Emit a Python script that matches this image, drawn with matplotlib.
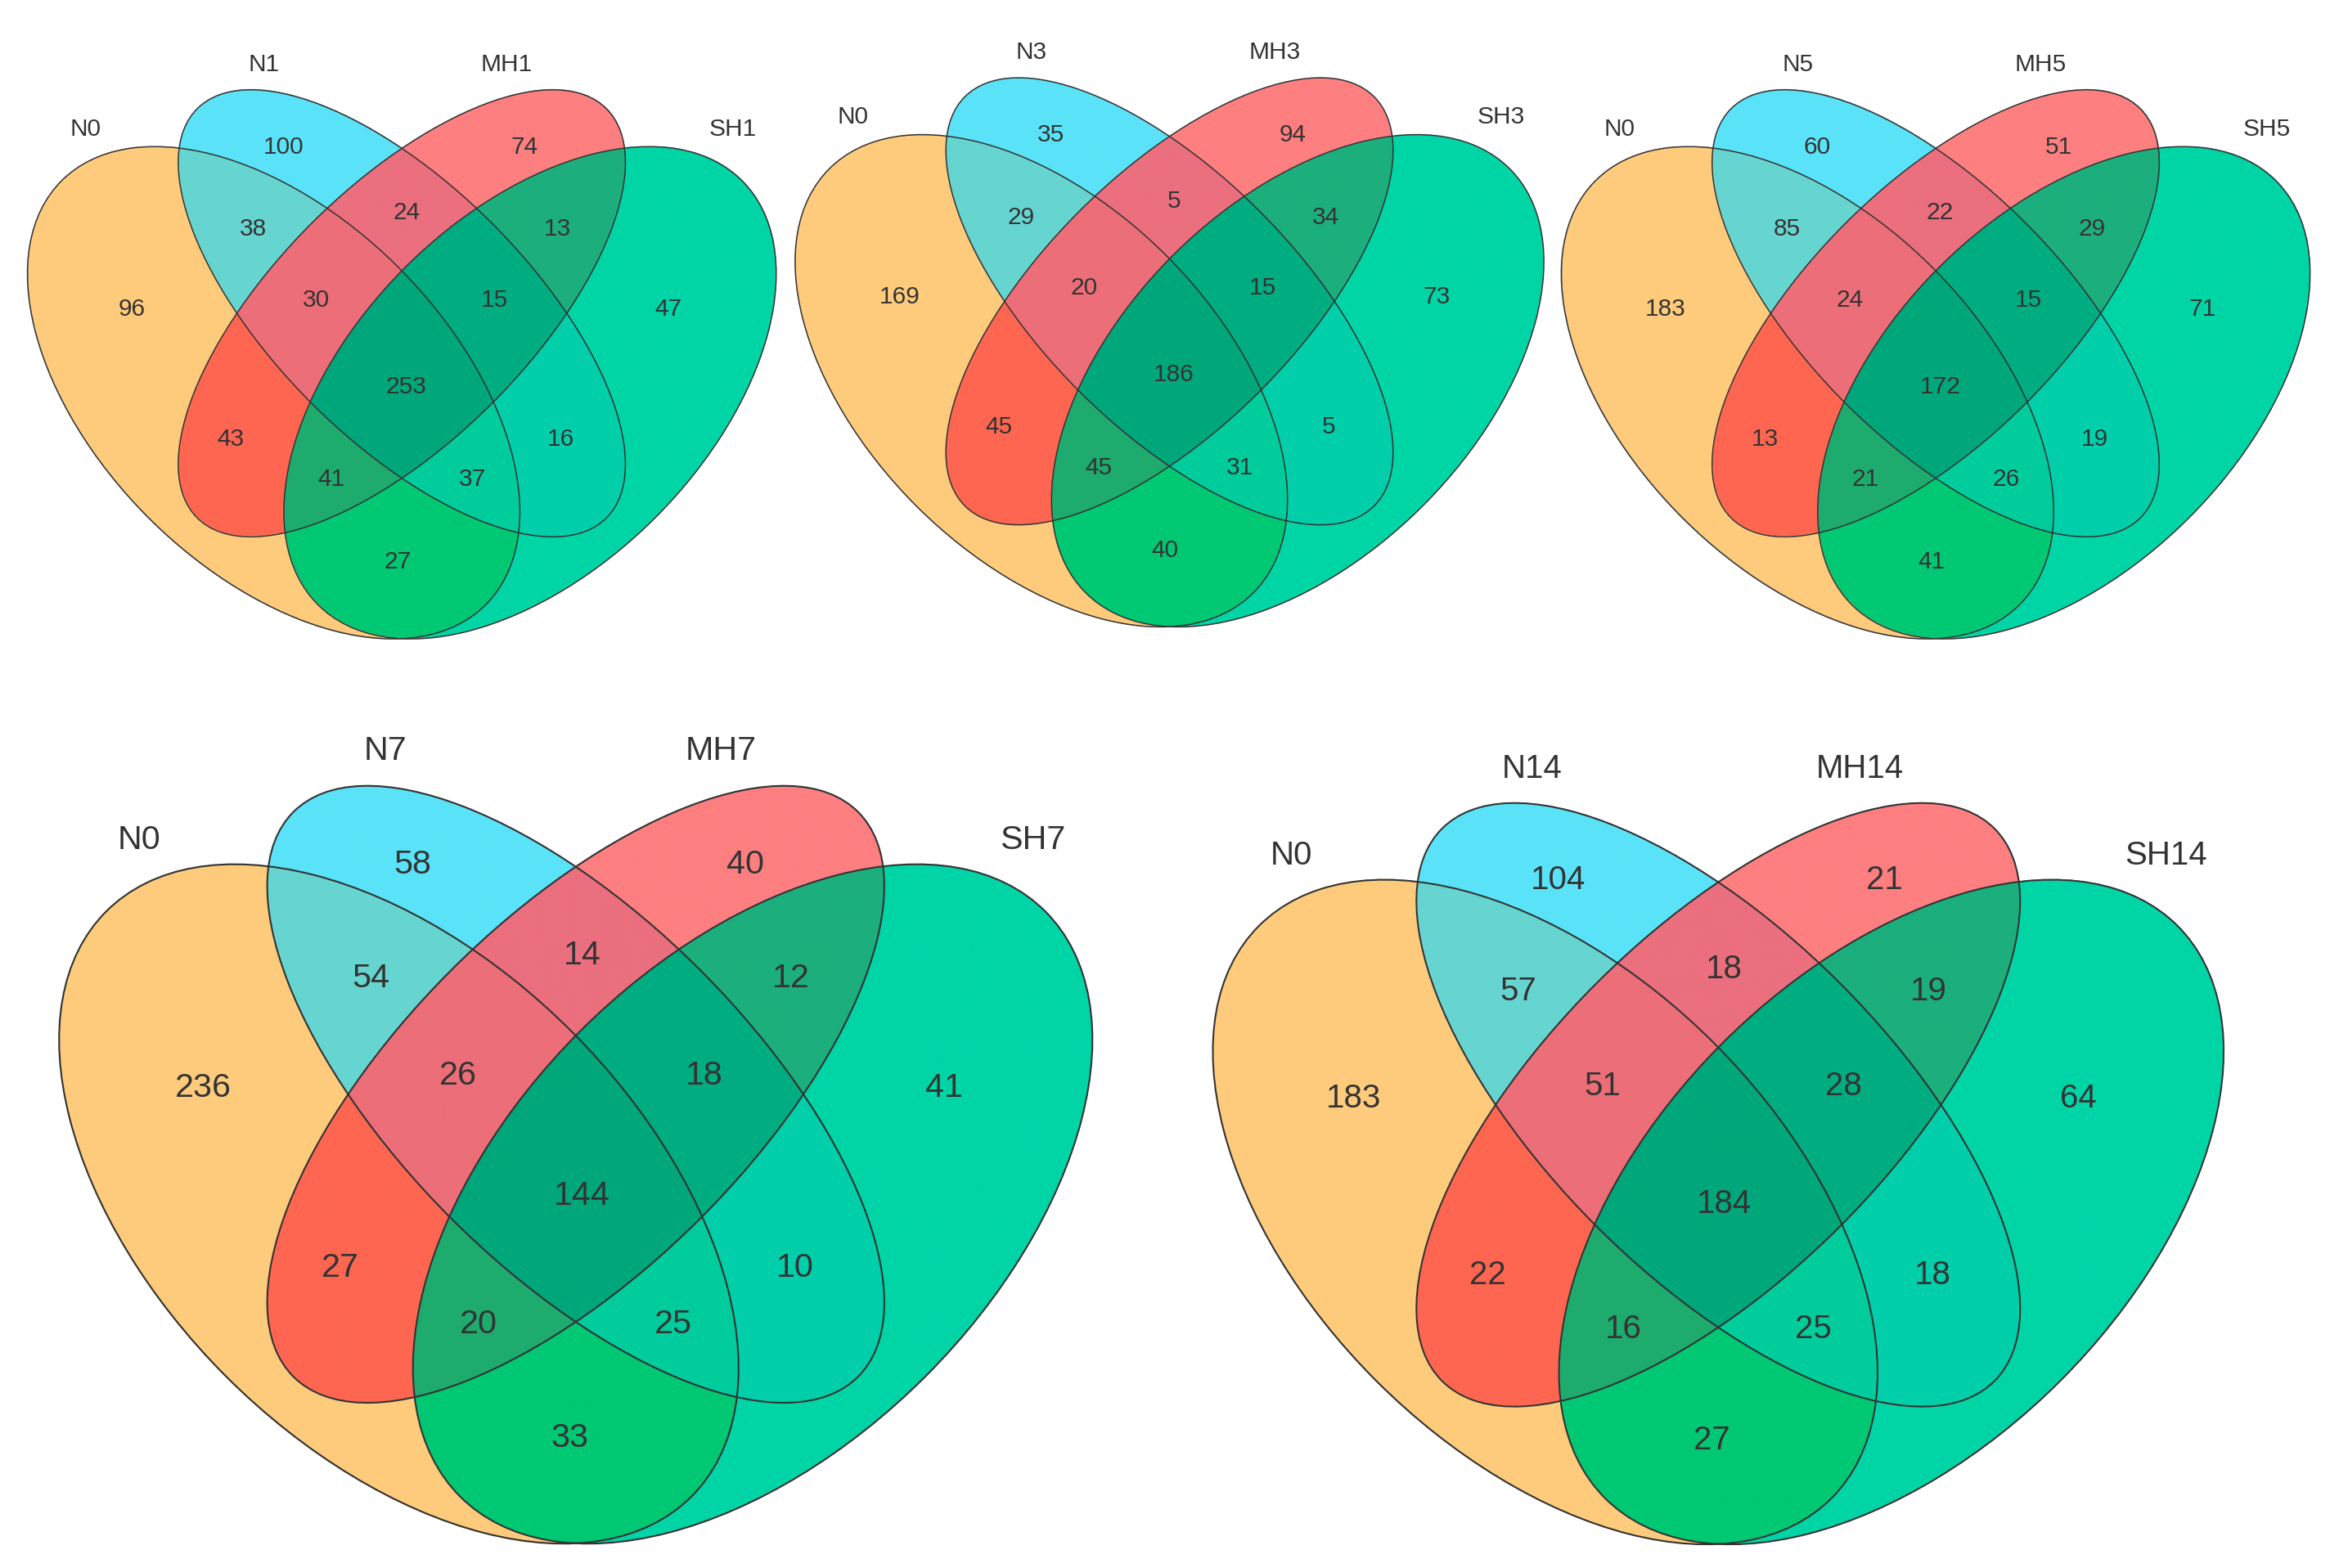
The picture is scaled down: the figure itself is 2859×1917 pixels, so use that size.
import numpy as np
import matplotlib.pyplot as plt
from matplotlib.patches import Ellipse
from matplotlib.colors import to_rgba

plt.rcParams['font.family'] = ['Liberation Sans', 'DejaVu Sans']

# region codes: membership in (N0, Nx, MHx, SHx)
regions = ['1000', '0100', '0010', '0001', '1100', '0110', '0011', '1110',
           '0111', '1111', '1010', '0101', '1011', '1101', '1001']

names_d1 = ['N0', 'N1', 'MH1', 'SH1']
counts_d1 = [96, 100, 74, 47, 38, 24, 13, 30, 15, 253, 43, 16, 41, 37, 27]

names_d3 = ['N0', 'N3', 'MH3', 'SH3']
counts_d3 = [169, 35, 94, 73, 29, 5, 34, 20, 15, 186, 45, 5, 45, 31, 40]

names_d5 = ['N0', 'N5', 'MH5', 'SH5']
counts_d5 = [183, 60, 51, 71, 85, 22, 29, 24, 15, 172, 13, 19, 21, 26, 41]

names_d7 = ['N0', 'N7', 'MH7', 'SH7']
counts_d7 = [236, 58, 40, 41, 54, 14, 12, 26, 18, 144, 27, 10, 20, 25, 33]

names_d14 = ['N0', 'N14', 'MH14', 'SH14']
counts_d14 = [183, 104, 21, 64, 57, 18, 19, 51, 28, 184, 22, 18, 16, 25, 27]

# fill colour of every region
region_colors = {
    '1000': '#FECB7C', '0100': '#5AE3F8', '0010': '#FE7F80', '0001': '#00D5A6',
    '1100': '#66D5D0', '0110': '#EB6F7E', '0011': '#1CAF7D', '1110': '#EC6E78',
    '0111': '#00AD80', '1111': '#00A77A', '1010': '#FE6651', '0101': '#00CFAA',
    '1011': '#1EAB6E', '1101': '#00CC9C', '1001': '#00C873',
}

# label offsets (x right, y down) from the centre of the two inner ellipses
label_pos = {
    '1000': (-180, -3), '0100': (-79, -111), '0010': (82, -111), '0001': (178, -3),
    '1100': (-99, -56), '0110': (3, -67), '0011': (104, -56),
    '1110': (-57, -9), '0111': (62, -9), '1111': (3, 49),
    '1010': (-114, 84), '0101': (106, 84),
    '1011': (-47, 111), '1101': (47, 111), '1001': (-3, 166),
}
name_pos = [(-211, -123), (-92, -166), (70, -166), (221, -123)]

W = 1560.0
H = W * 1917 / 2859


def draw_venn(ax, names, counts, cx, cy, s):
    y0 = H - cy
    # (centre x, centre y, semi-major, semi-minor, angle)
    ells = [
        (cx - 85.5 * s, y0 - 53 * s, 200 * s, 118 * s, 135),
        (cx, y0, 193 * s, 85 * s, 135),
        (cx, y0, 193 * s, 85 * s, 45),
        (cx + 85.5 * s, y0 - 53 * s, 200 * s, 118 * s, 45),
    ]
    x_lo, x_hi = cx - 262 * s, cx + 262 * s
    y_lo, y_hi = y0 - 232 * s, y0 + 160 * s
    nx = int((x_hi - x_lo) * 2.2)
    ny = int((y_hi - y_lo) * 2.2)
    xs = np.linspace(x_lo, x_hi, nx)
    ys = np.linspace(y_lo, y_hi, ny)
    X, Y = np.meshgrid(xs, ys)
    idx = np.zeros(X.shape, dtype=int)
    for k, (ex, ey, a, b, ang) in enumerate(ells):
        t = np.deg2rad(ang)
        dx, dy = X - ex, Y - ey
        u = dx * np.cos(t) + dy * np.sin(t)
        v = -dx * np.sin(t) + dy * np.cos(t)
        inside = (u / a) ** 2 + (v / b) ** 2 <= 1
        idx += inside.astype(int) << (3 - k)
    lut = np.zeros((16, 4))
    for code, col in region_colors.items():
        lut[int(code, 2)] = to_rgba(col)
    ax.imshow(lut[idx], extent=(x_lo, x_hi, y_lo, y_hi), origin='lower',
              interpolation='bilinear', zorder=1)
    for ex, ey, a, b, ang in ells:
        ax.add_patch(Ellipse((ex, ey), 2 * a, 2 * b, angle=ang, fill=False,
                             ec='#333333', lw=1.1 * s, zorder=2))
    fs = 21.5 * s
    for code, n in zip(regions, counts):
        rx, ry = label_pos[code]
        ax.text(cx + rx * s, y0 - ry * s, str(n), ha='center', va='center',
                fontsize=fs, color='#333333', zorder=3)
    for nm, (rx, ry) in zip(names, name_pos):
        ax.text(cx + rx * s, y0 - ry * s, nm, ha='center', va='center',
                fontsize=fs, color='#333333', zorder=3)


fig = plt.figure(figsize=(28.59, 19.17), dpi=100)
ax = fig.add_axes([0, 0, 1, 1])

draw_venn(ax, names_d1, counts_d1, 268, 209, 1.0)
draw_venn(ax, names_d3, counts_d3, 780, 201, 1.0)
draw_venn(ax, names_d5, counts_d5, 1291, 209, 1.0)
draw_venn(ax, names_d7, counts_d7, 384, 730, 1.38)
draw_venn(ax, names_d14, counts_d14, 1146, 737, 1.35)

ax.set_xlim(0, W)
ax.set_ylim(0, H)
ax.set_aspect('auto')
ax.axis('off')

fig.savefig('out.png', dpi=100, facecolor='white')
